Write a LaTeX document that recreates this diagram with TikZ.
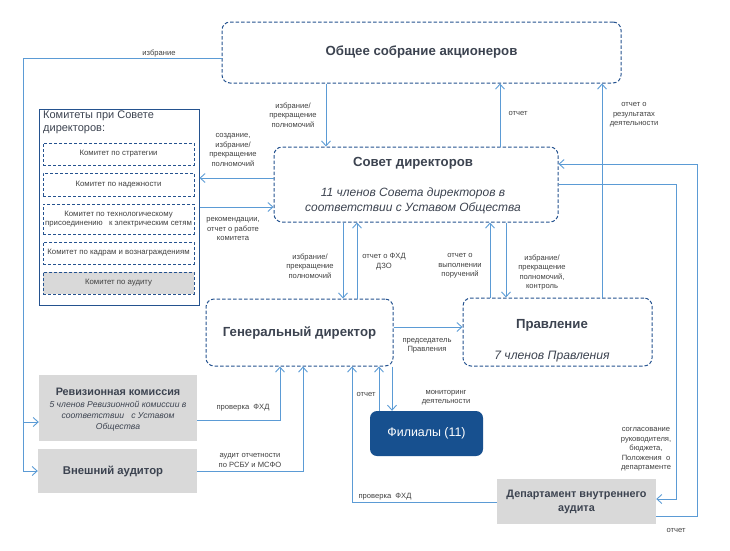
\documentclass[tikz,border=0pt]{standalone}
\usepackage{fontspec}
\setmainfont{Liberation Sans}
\usetikzlibrary{arrows.meta}
\definecolor{boxblue}{HTML}{24528F}
\definecolor{lineblue}{HTML}{5B9BD5}
\definecolor{titlegray}{HTML}{3C4350}
\definecolor{labelgray}{HTML}{404040}
\definecolor{fillgray}{HTML}{D9D9D9}
\definecolor{filblue}{HTML}{17508F}
\begin{document}
\begin{tikzpicture}[x=1pt,y=-1pt,
  dbox/.style={draw=boxblue,dash pattern=on 3.5pt off 2pt,line width=1pt,rounded corners=8pt,inner sep=0pt,align=center,text=titlegray},
  cbox/.style={draw=boxblue,dash pattern=on 3pt off 2pt,line width=0.9pt,inner sep=0pt,minimum width=151pt,align=center,text=labelgray,font=\fontsize{7.8}{9.5}\selectfont},
  gbox/.style={fill=fillgray,inner sep=0pt,align=center,text=titlegray},
  ttl/.style={font=\fontsize{13.2}{15}\selectfont\bfseries},
  lbl/.style={font=\fontsize{7.6}{9.5}\selectfont,text=labelgray,align=center,inner sep=0pt},
  arr/.style={draw=lineblue,line width=0.9pt,-{Straight Barb[length=5pt,width=9pt]}},
  ln/.style={draw=lineblue,line width=0.9pt}]
\useasboundingbox (0,0) rectangle (730,550);

% main boxes
\node[dbox,minimum width=399pt,minimum height=61pt,ttl] (osa) at (421.5,52.5) {Общее собрание акционеров};
\node[dbox,minimum width=284pt,minimum height=75pt] (sd) at (416,184.5) {};
\node[ttl,text=titlegray,inner sep=0pt] (sdt) at (413,163) {Совет директоров};
\node[font=\fontsize{12}{15}\selectfont\itshape,text=titlegray,align=center,inner sep=0pt] (sds) at (413,200.5) {11 членов Совета директоров в\\соответствии с Уставом Общества};
\node[dbox,minimum width=187pt,minimum height=67pt,ttl] (gd) at (299.5,332.5) {Генеральный директор};
\node[dbox,minimum width=189pt,minimum height=68pt] (pr) at (557.5,332) {};
\node[ttl,text=titlegray,inner sep=0pt] (prt) at (552,325) {Правление};
\node[font=\fontsize{12.2}{14}\selectfont\itshape,text=titlegray,inner sep=0pt] (prs) at (552,357) {7 членов Правления};
\node[fill=filblue,rounded corners=7pt,minimum width=113pt,minimum height=45pt,inner sep=0pt,text=white,font=\fontsize{12.4}{14}\selectfont] (fil) at (426.5,433.5) {Филиалы (11)};
\node[gbox,minimum width=159pt,minimum height=45pt,font=\fontsize{10.8}{14}\selectfont\bfseries] (dva) at (576.5,501.5) {Департамент внутреннего\\аудита};
\node[gbox,minimum width=158pt,minimum height=66pt] (rev) at (118,408) {};
\node[font=\fontsize{10.8}{12}\selectfont\bfseries,text=titlegray,inner sep=0pt] (revt) at (118,392) {Ревизионная комиссия};
\node[font=\fontsize{8.6}{11}\selectfont\itshape,text=titlegray,align=center,inner sep=0pt] (revs) at (118,416) {5 членов Ревизионной комиссии в\\соответствии \ \ с Уставом\\Общества};
\node[gbox,minimum width=159pt,minimum height=44pt] (ext) at (117.5,471) {};
\node[font=\fontsize{11.3}{13}\selectfont\bfseries,text=titlegray,inner sep=0pt] (extt) at (113,471) {Внешний аудитор};

% committees
\node[draw=boxblue,line width=1pt,minimum width=160pt,minimum height=196pt,inner sep=0pt] (com) at (119,207) {};
\node[anchor=north west,align=left,font=\fontsize{11}{13}\selectfont,text=titlegray,inner sep=0pt] (comt) at (43,111) {Комитеты при Совете\\директоров:};
\node[cbox,minimum height=22pt] (c1) at (118.5,154) {Комитет по стратегии};
\node[cbox,minimum height=23pt] (c2) at (118.5,184.5) {Комитет по надежности};
\node[cbox,minimum height=30pt] (c3) at (118.5,219) {Комитет по технологическому\\присоединению \ \ к электрическим сетям};
\node[cbox,minimum height=22pt] (c4) at (118.5,253) {Комитет по кадрам и вознаграждениям};
\node[cbox,minimum height=22pt,fill=fillgray] (c5) at (118.5,283) {Комитет по аудиту};

% connectors
\draw[ln] (osa.west |- 0,58) -- (23,58) -- (23,471);
\draw[arr] (23,471) -- (ext.west |- 0,471);
\draw[arr] (23,422) -- (rev.west |- 0,422);
\node[lbl] (l1) at (159,53) {избрание};

\draw[arr] (326,0 |- osa.south) -- (326,0 |- sd.north);
\node[lbl] (l2) at (293,115) {избрание/\\прекращение\\полномочий};
\draw[arr] (500,0 |- sd.north) -- (500,0 |- osa.south);
\node[lbl] (l3) at (518,113) {отчет};
\draw[arr] (602,0 |- pr.north) -- (602,0 |- osa.south);
\node[lbl] (l4) at (634,115) {отчет о\\результатах\\деятельности};

\draw[arr] (sd.west |- 0,178) -- (com.east |- 0,178);
\node[lbl] (l5) at (233,150) {создание,\\избрание/\\прекращение\\полномочий};
\draw[arr] (com.east |- 0,207) -- (sd.west |- 0,207);
\node[lbl] (l6) at (233,229) {рекомендации,\\отчет о работе\\комитета};

\draw[arr] (343,0 |- sd.south) -- (343,0 |- gd.north);
\draw[arr] (357,0 |- gd.north) -- (357,0 |- sd.south);
\node[lbl] (l7) at (310,266) {избрание/\\прекращение\\полномочий};
\node[lbl] (l8) at (384,261.5) {отчет о ФХД\\ДЗО};

\draw[arr] (490,0 |- pr.north) -- (490,0 |- sd.south);
\draw[arr] (506,0 |- sd.south) -- (506,0 |- pr.north);
\node[lbl] (l9) at (460,266) {отчет о\\выполнении\\поручений};
\node[lbl] (l10) at (542,272.5) {избрание/\\прекращение\\полномочий,\\контроль};

\draw[arr] (gd.east |- 0,327) -- (pr.west |- 0,327);
\node[lbl] (l11) at (427,345.5) {председатель\\Правления};

\draw[arr] (rev.east |- 0,420) -| (280,0 |- gd.south);
\node[lbl] (l12) at (243,408) {проверка \ ФХД};
\draw[arr] (ext.east |- 0,471) -| (303,0 |- gd.south);
\node[lbl] (l13) at (250,460.5) {аудит отчетности\\по РСБУ и МСФО};
\draw[arr] (dva.west |- 0,502) -| (352,0 |- gd.south);
\node[lbl] (l14) at (385,497) {проверка \ ФХД};

\draw[arr] (379,0 |- fil.north) -- (379,0 |- gd.south);
\draw[arr] (392,0 |- gd.south) -- (392,0 |- fil.north);
\node[lbl] (l15) at (366,394) {отчет};
\node[lbl] (l16) at (446,397.5) {мониторинг\\деятельности};

\draw[arr] (dva.east |- 0,516) -- (697,516) -- (697,164) -- (sd.east |- 0,164);
\node[lbl] (l17) at (676,530) {отчет};
\draw[arr] (sd.east |- 0,184) -- (676,184) -- (676,499) -- (dva.east |- 0,499);
\node[lbl] (l18) at (646,449.5) {согласование\\руководителя,\\бюджета,\\Положения \ о\\департаменте};
\end{tikzpicture}
\end{document}
